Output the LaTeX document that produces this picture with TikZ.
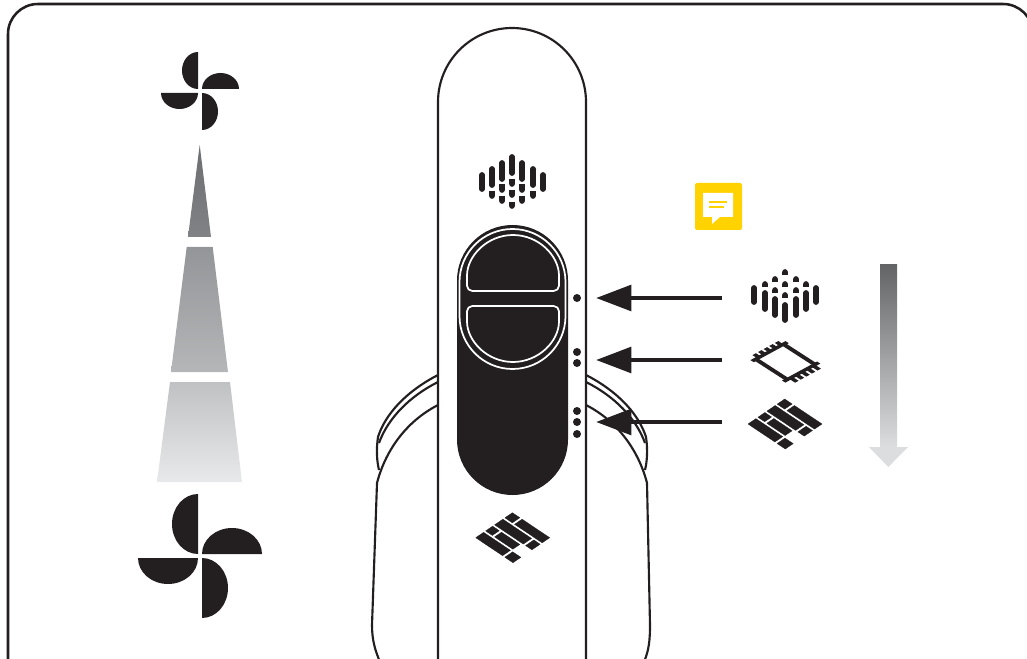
\documentclass[tikz,border=0pt]{standalone}
\usepackage{xcolor}
\usepackage{tikz}
\usetikzlibrary{arrows.meta}

\definecolor{ink}{HTML}{231F20}
\definecolor{noteyellow}{HTML}{FFD200}
\definecolor{graya}{HTML}{6D6E71}
\definecolor{grayb}{HTML}{808285}
\definecolor{grayc}{HTML}{939598}
\definecolor{grayd}{HTML}{B5B6B8}
\definecolor{graye}{HTML}{C0C1C3}
\definecolor{grayf}{HTML}{E8E9EA}
\definecolor{grayg}{HTML}{636466}
\definecolor{grayh}{HTML}{DCDDDE}

\newcommand{\pinwheel}[4]{% centre x, centre y, half chord, depth
    \foreach \ang in {0,90,180,270} {
        \fill[ink, shift={(#1,#2)}, rotate=\ang]
            (-2,-2) -- (-2,-2-2*#3) arc[start angle=270, end angle=90, x radius=#4, y radius=#3] -- cycle;
    }
}
\newcommand{\brickicon}[2]{% centre x, centre y
    \begin{scope}[shift={(#1-37,#2)}, cm={37.3,25,36.7,-25,(0,0)}]
        \fill[tile] (0,0) rectangle (.72,.215);
        \fill[tile] (.78,0) rectangle (1,.215);
        \fill[tile] (0,.27) rectangle (.18,.46);
        \fill[tile] (.24,.27) rectangle (.73,.46);
        \fill[tile] (0,.515) rectangle (.77,.74);
        \fill[tile] (.83,.515) rectangle (1,.74);
        \fill[tile] (0,.795) rectangle (.2,1);
        \fill[tile] (.26,.795) rectangle (1,1);
    \end{scope}
}
\newcommand{\voicebar}[3]{\draw[bar] (#1,#2) -- (#1,#3);}
\newcommand{\voicetip}[3]{% x, flat end, round end
    \draw[barflat] (#1,#2) -- (#1,#3);
    \fill[ink] (#1,#3) circle[radius=2.85];
}

\begin{document}
\begin{tikzpicture}[
        x=0.75pt, y=0.75pt, yscale=-1,
        tile/.style={ink, draw=ink, line width=0.2pt, line join=round},
        bar/.style={ink, line width=4.3pt, line cap=round},
        barflat/.style={ink, line width=4.3pt},
        outline/.style={draw=ink, line width=1.6pt},
        ring/.style={white, line width=1.3pt},
        arrow/.style={-{Triangle[length=26.5pt, width=19pt]}, ink, line width=3.6pt}
    ]
    \clip (0,0) rectangle (1027,659);

    % frame
    \draw[ink, line width=1.9pt] (8,700) -- (8,34) arc[start angle=180, end angle=270, radius=30] -- (1003,4) arc[start angle=270, end angle=360, radius=30] -- (1033,700);

    % straps behind the device
    \draw[outline] (438,375) .. controls (405,392) and (385,415) .. (378,437) .. controls (376,450) and (377,462) .. (379,470);
    \draw[outline] (438,382) .. controls (410,396) and (388,418) .. (379,443);
    \draw[outline] (438,405) .. controls (405,422) and (385,452) .. (377,483) -- (372,625) .. controls (372,640) and (375,650) .. (380,662);
    \draw[outline] (586,375) .. controls (619,392) and (639,415) .. (646,437) .. controls (648,450) and (647,462) .. (645,470);
    \draw[outline] (586,382) .. controls (614,396) and (636,418) .. (645,443);
    \draw[outline] (586,405) .. controls (619,422) and (639,452) .. (647,483) -- (650,625) .. controls (650,640) and (649,650) .. (644,662);

    % device body
    \draw[outline, fill=white] (438,670) -- (438,102) arc[start angle=180, end angle=360, radius=74] -- (586,670);

    % slider
    \fill[ink] (457,280.5) arc[start angle=180, end angle=360, radius=55.5] -- (568,439.5) arc[start angle=0, end angle=180, radius=55.5] -- cycle;
    \draw[ring] (459.5,282) arc[start angle=180, end angle=360, radius=53] -- (565.5,316) arc[start angle=0, end angle=180, radius=53] -- cycle;
    \draw[ring, rounded corners=4pt] (467,291) -- (467,281) arc[start angle=180, end angle=360, radius=46] -- (559,291) -- cycle;
    \draw[ring, rounded corners=4pt] (467,306) -- (467,316) arc[start angle=180, end angle=0, radius=46] -- (559,306) -- cycle;

    % position dots
    \foreach \dotname/\yy in {da/298,db/352,dc/363,dd/411,de/422,df/434}
        \node[circle, fill=ink, inner sep=0pt, minimum size=6pt] (\dotname) at (577,\yy) {};

    % arrows
    \coordinate (sa) at (722,298);
    \coordinate (sb) at (722,360);
    \coordinate (sc) at (722,422);
    \coordinate (ta) at (596,298);
    \coordinate (tb) at (596,360);
    \coordinate (tc) at (596,422);
    \draw[arrow] (sa) -- (ta);
    \draw[arrow] (sb) -- (tb);
    \draw[arrow] (sc) -- (tc);

    % left wedge
    \shade[top color=graya, bottom color=grayb] (199.7,145) -- (188,237) -- (211,237) -- cycle;
    \shade[top color=grayc, bottom color=grayd] (186.7,247) -- (171,372) -- (228,372) -- (212.7,247) -- cycle;
    \shade[top color=graye, bottom color=grayf] (170,382) -- (157,482) -- (242,482) -- (230,382) -- cycle;

    % fans
    \pinwheel{200}{91}{18.5}{16}
    \pinwheel{200}{556}{30}{26}

    % voice icon on the device
    \foreach \xx/\ya/\yb in {482/175/189,492/169/185,502/163/179,512/157/173,522/163/179,533/169/185,543/175/189} {
        \voicebar{\xx}{\ya}{\yb}
    }
    \foreach \xx/\yf/\yr in {492/191/196,502/184/190,502/196/201,512/179/184,512/190/195,512/202/206,522/184/190,522/196/201,533/191/196} {
        \voicetip{\xx}{\yf}{\yr}
    }

    % voice icon at the arrow
    \foreach \xx/\ya/\yb in {754/288/302,765/293/309,775/299/315,785/305/320,796/299/315,806/293/309,816/288/302} {
        \voicebar{\xx}{\ya}{\yb}
    }
    \foreach \xx/\yf/\yr in {765/287/284,775/282/279,775/293/290,785/275/272,785/287/284,785/298/295,796/282/279,796/293/290,806/287/284} {
        \voicetip{\xx}{\yf}{\yr}
    }

    % chip icon
    \begin{scope}[shift={(748,358.5)}, cm={41,26.5,35,-19,(0,0)}]
        \fill[ink] (.06,0) rectangle (.14,1);
        \fill[ink] (.83,0) rectangle (.91,1);
        \fill[ink] (.1,.05) rectangle (.87,.16);
        \fill[ink] (.1,.84) rectangle (.87,.95);
        \foreach \tb in {.2,.36,.52,.68,.84} {
            \fill[ink] (-.02,\tb-.05) rectangle (.1,\tb+.05);
            \fill[ink] (.87,\tb-.05) rectangle (1.02,\tb+.05);
        }
    \end{scope}

    % brick icons
    \brickicon{785}{424}
    \brickicon{512.7}{537.7}

    % note
    \fill[noteyellow, rounded corners=1.5pt] (695,183) rectangle (742,230);
    \fill[white] (703,193) -- (733,193) -- (733,217) -- (720,217) -- (712,224) -- (712,217) -- (703,217) -- cycle;
    \draw[noteyellow, line width=0.9pt] (709,202) -- (727,202);
    \draw[noteyellow, line width=0.9pt] (709,207) -- (724,207);

    % right gradient arrow
    \shade[top color=grayg, bottom color=grayh] (880,264.5) rectangle (897,447);
    \fill[grayh] (869,447) -- (908,447) -- (888.3,467) -- cycle;
\end{tikzpicture}
\end{document}
